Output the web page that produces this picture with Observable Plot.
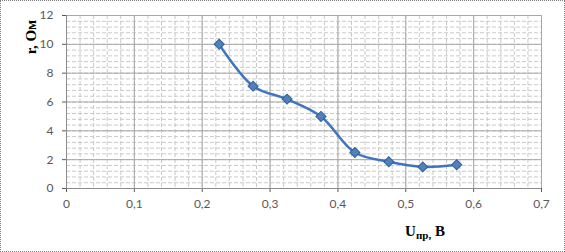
<!DOCTYPE html>
<html>
<head>
<meta charset="utf-8">
<script src="https://cdn.jsdelivr.net/npm/d3@7"></script>
<script src="https://cdn.jsdelivr.net/npm/@observablehq/plot@0.6"></script>
<style>
  html, body { margin: 0; padding: 0; background: #fff; }
  #chart svg { display: block; outline: 1px dotted #7f7f7f; outline-offset: -1px; }
</style>
</head>
<body>
<div id="chart"></div>
<script>
const voltage = [0.225, 0.275, 0.325, 0.375, 0.425, 0.475, 0.525, 0.575];
const resistance = [10.0, 7.1, 6.2, 5.0, 2.5, 1.85, 1.5, 1.65];
const xTicks = [0, 0.1, 0.2, 0.3, 0.4, 0.5, 0.6, 0.7];
const yTicks = [0, 2, 4, 6, 8, 10, 12];
const xMinor = d3.range(0, 0.7001, 0.02);
const yMinor = d3.range(0, 12.001, 0.4);
const yLabel = "r, Ом";
const xLabelMain = "U";
const xLabelSub = "пр,";
const xLabelUnit = " В";

const data = voltage.map((v, i) => ({u: v, r: resistance[i]}));
const fmt = d => String(+d.toFixed(1)).replace(".", ",");

const plot = Plot.plot({
  width: 565,
  height: 252,
  marginLeft: 66,
  marginRight: 24,
  marginTop: 15,
  marginBottom: 64,
  style: {fontFamily: "Lato, 'Liberation Sans', sans-serif", fontSize: "12px", color: "#595959", background: "#fff"},
  x: {domain: [0, 0.7], ticks: xTicks, tickFormat: fmt, tickSize: 4, tickPadding: 7, label: null},
  y: {domain: [0, 12], ticks: yTicks, tickFormat: d => String(d), tickSize: 4, tickPadding: 9, label: null},
  marks: [
    Plot.ruleX(xMinor, {stroke: "#c9c9c9", strokeDasharray: "4,2", strokeWidth: 1}),
    Plot.ruleY(yMinor, {stroke: "#c9c9c9", strokeDasharray: "4,2", strokeWidth: 1}),
    Plot.ruleX(xTicks, {stroke: "#a8a8a8", strokeWidth: 1}),
    Plot.ruleY(yTicks, {stroke: "#a8a8a8", strokeWidth: 1}),
    Plot.ruleX([0], {stroke: "#8c8c8c"}),
    Plot.ruleY([0], {stroke: "#8c8c8c"}),
    Plot.line(data, {x: "u", y: "r", curve: "catmull-rom", stroke: "#3f74c0", strokeWidth: 2.5}),
    Plot.dot(data, {x: "u", y: "r", symbol: "square", rotate: 45, r: 4, fill: "#4f81bd", stroke: "#2f5f9a", strokeWidth: 1})
  ]
});

document.getElementById("chart").appendChild(plot);

const svg = d3.select(plot);
svg.append("text")
  .attr("transform", "translate(36,37) rotate(-90)")
  .attr("text-anchor", "middle")
  .attr("font-family", "'Liberation Serif', 'DejaVu Serif', serif")
  .attr("font-weight", "bold")
  .attr("font-size", 15)
  .attr("fill", "#000")
  .text(yLabel);

const xl = svg.append("text")
  .attr("x", 425)
  .attr("y", 236)
  .attr("text-anchor", "middle")
  .attr("font-family", "'Liberation Serif', 'DejaVu Serif', serif")
  .attr("font-weight", "bold")
  .attr("font-size", 15)
  .attr("fill", "#000");
xl.append("tspan").text(xLabelMain);
xl.append("tspan").attr("font-size", 11).attr("dy", 3).text(xLabelSub);
xl.append("tspan").attr("dy", -3).text(xLabelUnit);
</script>
</body>
</html>
